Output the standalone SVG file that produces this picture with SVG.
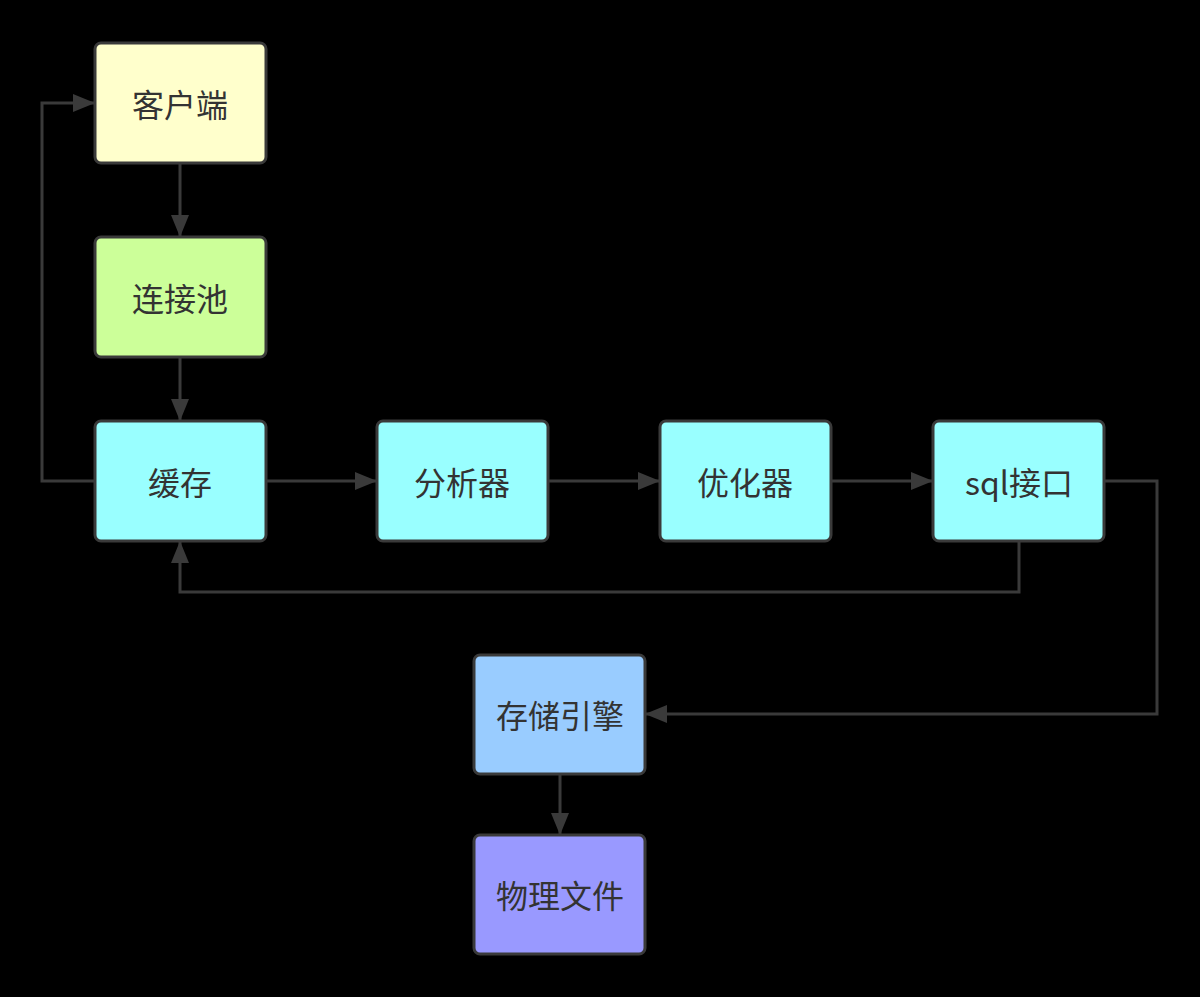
<svg xmlns="http://www.w3.org/2000/svg" width="1200" height="997" viewBox="0 0 1200 997">
<style>
.n rect{stroke:#3a3a3a;stroke-width:3}
.n text{font-family:"Noto Sans CJK SC","Noto Sans",sans-serif;font-size:32px;fill:#333;text-anchor:middle;dominant-baseline:central}
.c path{fill:none;stroke:#3a3a3a;stroke-width:3}
</style>
<defs>
<marker id="a" markerUnits="userSpaceOnUse" markerWidth="24" markerHeight="18" refX="22" refY="9" orient="auto">
<path d="M0,0 L22,9 L0,18 Z" fill="#3a3a3a"/>
</marker>
</defs>
<rect width="1200" height="997" fill="#000"/>
<g class="c">
<path d="M95,481 H42 V103 H95" marker-end="url(#a)"/>
<path d="M180,163 V237" marker-end="url(#a)"/>
<path d="M180,357 V421" marker-end="url(#a)"/>
<path d="M266,481 H377" marker-end="url(#a)"/>
<path d="M548,481 H660" marker-end="url(#a)"/>
<path d="M831,481 H933" marker-end="url(#a)"/>
<path d="M1019,541 V592 H180 V541" marker-end="url(#a)"/>
<path d="M1104,481 H1157 V714 H645" marker-end="url(#a)"/>
<path d="M560,774 V835" marker-end="url(#a)"/>
</g>
<g id="client" class="n"><rect x="95" y="43" width="171" height="120" rx="6" fill="#ffffcc"/><text x="180" y="103">客户端</text></g>
<g id="pool" class="n"><rect x="95" y="237" width="171" height="120" rx="6" fill="#ccff99"/><text x="180" y="297">连接池</text></g>
<g id="cache" class="n"><rect x="95" y="421" width="171" height="120" rx="6" fill="#99ffff"/><text x="180" y="481">缓存</text></g>
<g id="parser" class="n"><rect x="377" y="421" width="171" height="120" rx="6" fill="#99ffff"/><text x="462" y="481">分析器</text></g>
<g id="optimizer" class="n"><rect x="660" y="421" width="171" height="120" rx="6" fill="#99ffff"/><text x="745" y="481">优化器</text></g>
<g id="sql" class="n"><rect x="933" y="421" width="171" height="120" rx="6" fill="#99ffff"/><text x="1019" y="481">sql接口</text></g>
<g id="engine" class="n"><rect x="474" y="655" width="171" height="119" rx="6" fill="#99ccff"/><text x="560" y="714">存储引擎</text></g>
<g id="file" class="n"><rect x="474" y="835" width="171" height="119" rx="6" fill="#9999ff"/><text x="560" y="894">物理文件</text></g>
</svg>
